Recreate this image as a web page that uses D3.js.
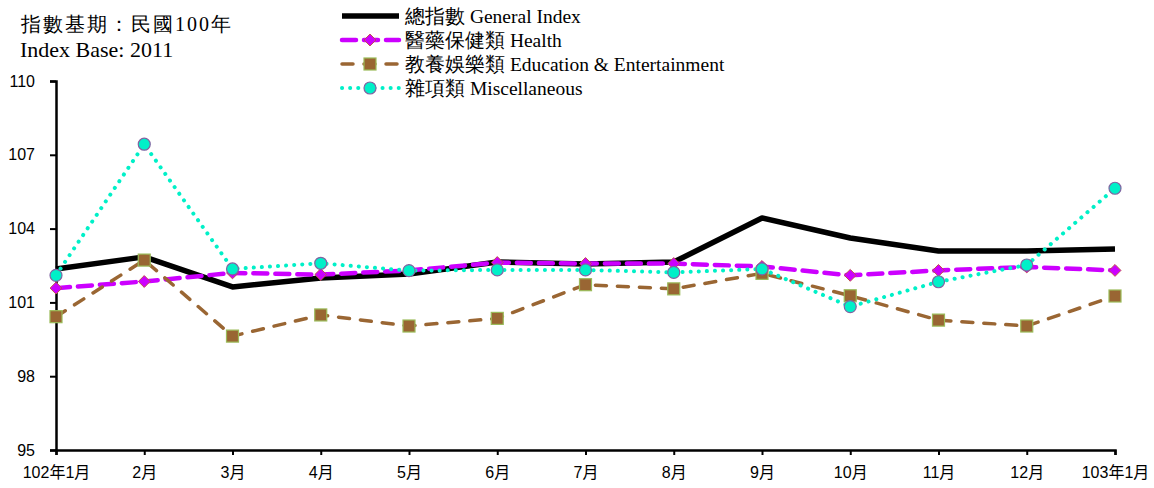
<!DOCTYPE html>
<html><head><meta charset="utf-8">
<script src="https://cdn.jsdelivr.net/npm/d3@7"></script>
<style>body{margin:0;background:#fff;}svg{display:block;}</style>
</head><body>
<svg id="c" width="1154" height="488"></svg>
<script>
const months = ["102年1月","2月","3月","4月","5月","6月","7月","8月","9月","10月","11月","12月","103年1月"];
const yTicks = [95, 98, 101, 104, 107, 110];
const generalIndex = [102.36, 102.85, 101.63, 101.99, 102.15, 102.64, 102.56, 102.64, 104.43, 103.62, 103.09, 103.09, 103.17];
const health = [101.58, 101.85, 102.2, 102.13, 102.3, 102.62, 102.58, 102.58, 102.46, 102.1, 102.3, 102.44, 102.3];
const education = [100.42, 102.72, 99.63, 100.49, 100.04, 100.35, 101.72, 101.55, 102.18, 101.27, 100.28, 100.04, 101.26];
const misc = [102.1, 107.43, 102.36, 102.59, 102.29, 102.32, 102.32, 102.22, 102.36, 100.83, 101.84, 102.52, 105.64];
const seriesNames = ["總指數 General Index","醫藥保健類 Health","教養娛樂類 Education & Entertainment","雜項類 Miscellaneous"];

const svg = d3.select("#c");
const x = d3.scalePoint().domain(months).range([56, 1115]);
const y = d3.scaleLinear().domain([95, 110]).range([450, 81]);

// header text
const serif = "'Liberation Serif','Times New Roman',serif";
svg.append("text").attr("x", 21).attr("y", 31).attr("font-family", serif).attr("font-size", 20)
  .attr("letter-spacing", 2).text("指數基期：民國100年");
svg.append("text").attr("x", 20).attr("y", 57).attr("font-family", serif).attr("font-size", 22)
  .text("Index Base: 2011");

const axisFont = "'Liberation Sans','Noto Sans CJK TC',sans-serif";
// y axis
const ya = svg.append("g").attr("transform", "translate(56,0)")
  .call(d3.axisLeft(y).tickValues(yTicks).tickSize(6).tickPadding(15).tickFormat(d3.format("d")));
ya.select(".domain").attr("stroke", "#000").attr("stroke-width", 2.5);
ya.selectAll(".tick line").attr("stroke", "#000").attr("stroke-width", 2);
ya.selectAll("text").attr("font-family", axisFont).attr("font-size", 16).attr("fill", "#000");

// x axis
const xa = svg.append("g").attr("transform", "translate(0,450)")
  .call(d3.axisBottom(x).tickSize(5).tickSizeOuter(5).tickPadding(12));
xa.select(".domain").attr("stroke", "#000").attr("stroke-width", 2.5);
xa.selectAll(".tick line").attr("stroke", "#000").attr("stroke-width", 2);
xa.selectAll("text").attr("font-family", axisFont).attr("font-size", 16).attr("fill", "#000");

const line = d3.line().x((d, i) => x(months[i])).y(d => y(d));

const styles = [
  {data: generalIndex, color: "#000", width: 5.5, dash: null, cap: "butt", marker: null},
  {data: health, color: "#CC00FF", width: 4.5, dash: "14,8", cap: "round", marker: "diamond", fill: "#CC00FF", stroke: "#C0504D"},
  {data: education, color: "#9A6633", width: 3.5, dash: "11,11", cap: "round", marker: "square", fill: "#996633", stroke: "#9BBB59"},
  {data: misc, color: "#00F0C8", width: 4, dash: "0.1,8", cap: "round", marker: "circle", fill: "#00F0C8", stroke: "#8064A2"}
];

styles.forEach(s => {
  svg.append("path").datum(s.data).attr("d", line).attr("fill", "none")
    .attr("stroke", s.color).attr("stroke-width", s.width)
    .attr("stroke-linecap", s.cap).attr("stroke-linejoin", "round")
    .attr("stroke-dasharray", s.dash);
});

function drawMarker(g, type, cx, cy, s) {
  if (type === "diamond") {
    g.append("path").attr("d", d3.symbol(d3.symbolDiamond2 || d3.symbolDiamond, 90)())
      .attr("transform", `translate(${cx},${cy})`)
      .attr("fill", s.fill).attr("stroke", s.stroke).attr("stroke-width", 1);
  } else if (type === "square") {
    g.append("rect").attr("x", cx - 6).attr("y", cy - 6).attr("width", 12).attr("height", 12)
      .attr("fill", s.fill).attr("stroke", s.stroke).attr("stroke-width", 1.2);
  } else if (type === "circle") {
    g.append("circle").attr("cx", cx).attr("cy", cy).attr("r", 6)
      .attr("fill", s.fill).attr("stroke", s.stroke).attr("stroke-width", 1.2);
  }
}

styles.forEach(s => {
  if (!s.marker) return;
  const g = svg.append("g");
  s.data.forEach((v, i) => drawMarker(g, s.marker, x(months[i]), y(v), s));
});

// legend
const lg = svg.append("g");
const legendY = [16, 40, 64, 88];
styles.forEach((s, i) => {
  const ly = legendY[i];
  lg.append("line").attr("x1", 342).attr("x2", 399).attr("y1", ly).attr("y2", ly)
    .attr("stroke", s.color).attr("stroke-width", s.width)
    .attr("stroke-linecap", s.cap).attr("stroke-dasharray", s.dash);
  if (s.marker) drawMarker(lg, s.marker, 370, ly, s);
  lg.append("text").attr("x", 405).attr("y", ly + 7).attr("font-family", serif)
    .attr("font-size", 19.5).attr("fill", "#000").text(seriesNames[i]);
});
</script>
</body></html>
